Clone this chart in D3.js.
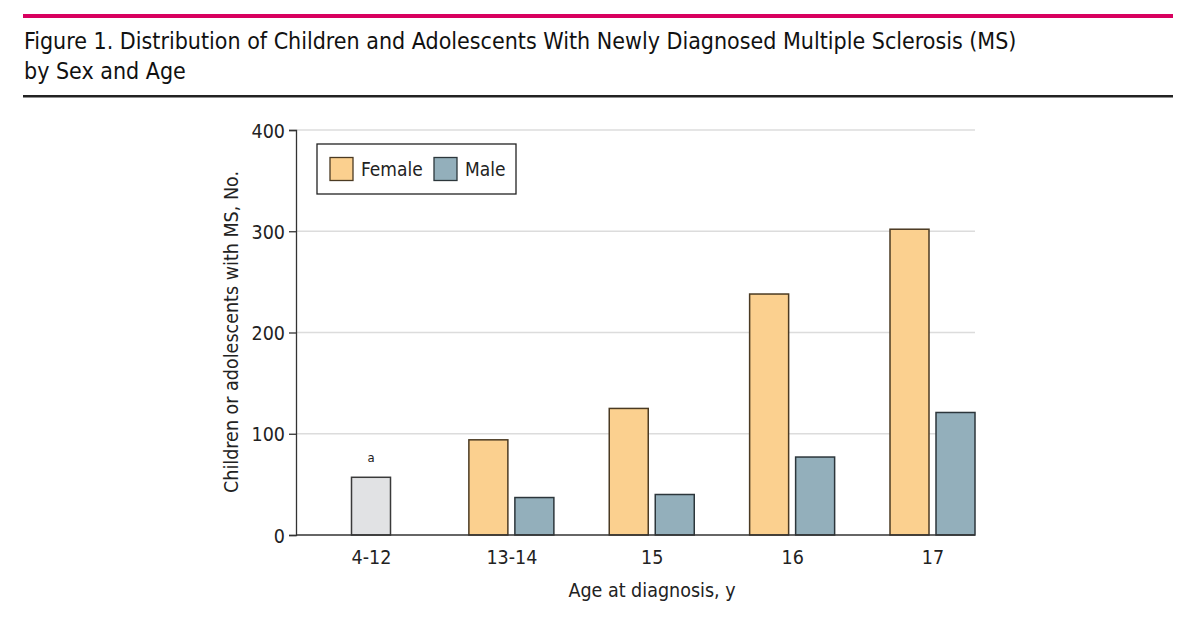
<!DOCTYPE html>
<html>
<head>
<meta charset="utf-8">
<script src="https://cdn.jsdelivr.net/npm/d3@7"></script>
<style>
  body { margin: 0; background: #fff; }
  svg { display: block; font-family: "Liberation Sans Narrow", "DejaVu Sans Condensed", "Noto Sans", sans-serif; }
</style>
</head>
<body>
<div id="chart"></div>
<script>
// data
var ageGroups = ["4-12", "13-14", "15", "16", "17"];
var femaleCounts = [null, 94, 125, 238, 302];
var maleCounts = [null, 37, 40, 77, 121];
var combinedCounts = [57, null, null, null, null]; // sex not split for 4-12 (footnote a)
var yTicks = [0, 100, 200, 300, 400];
var seriesNames = ["Female", "Male"];

var width = 1200, height = 639;
var plotLeft = 296, plotRight = 975, plotTop = 130, plotBottom = 535;

var colors = { Female: "#fbd08f", Male: "#93afbb", combined: "#e1e2e4" };
var strokes = { Female: "#4b3a22", Male: "#2c363b", combined: "#3a3a3a" };

var svg = d3.select("#chart").append("svg")
  .attr("width", width)
  .attr("height", height);

// header rules and title
svg.append("rect").attr("x", 23).attr("y", 14).attr("width", 1150).attr("height", 4).attr("fill", "#d8005f");
svg.append("rect").attr("x", 23).attr("y", 95).attr("width", 1150).attr("height", 2.5).attr("fill", "#222");

var title = svg.append("text")
  .attr("font-size", 23)
  .attr("fill", "#111");
title.append("tspan").attr("x", 24).attr("y", 49)
  .text("Figure 1. Distribution of Children and Adolescents With Newly Diagnosed Multiple Sclerosis (MS)");
title.append("tspan").attr("x", 24).attr("y", 79)
  .text("by Sex and Age");

var x = d3.scalePoint()
  .domain(ageGroups)
  .range([plotLeft + 75, plotRight - 42.5]);

var y = d3.scaleLinear()
  .domain([0, 400])
  .range([plotBottom, plotTop]);

var barW = 39, gap = 3.5;

// gridlines
svg.append("g")
  .selectAll("line")
  .data(yTicks.slice(1))
  .enter().append("line")
  .attr("x1", plotLeft)
  .attr("x2", plotRight)
  .attr("y1", d => y(d))
  .attr("y2", d => y(d))
  .attr("stroke", "#dcdcdc")
  .attr("stroke-width", 1.5);

// y axis
var yAxis = svg.append("g")
  .attr("transform", "translate(" + plotLeft + ",0)")
  .call(d3.axisLeft(y).tickValues(yTicks).tickSize(7).tickPadding(4))
  .attr("font-family", null)
  .attr("font-size", 19.5);
yAxis.select(".domain").attr("stroke", "#333").attr("stroke-width", 1.3);
yAxis.selectAll(".tick line").attr("stroke", "#333").attr("stroke-width", 1.3);
yAxis.selectAll(".tick text").attr("fill", "#222").attr("dy", "0.36em");

svg.append("text")
  .attr("transform", "translate(238,332) rotate(-90)")
  .attr("text-anchor", "middle")
  .attr("font-size", 19.5)
  .attr("fill", "#222")
  .text("Children or adolescents with MS, No.");

// bars
var bars = svg.append("g");

ageGroups.forEach(function(age, i) {
  if (combinedCounts[i] != null) {
    bars.append("rect")
      .attr("x", x(age) - barW / 2)
      .attr("y", y(combinedCounts[i]))
      .attr("width", barW)
      .attr("height", y(0) - y(combinedCounts[i]))
      .attr("fill", colors.combined)
      .attr("stroke", strokes.combined)
      .attr("stroke-width", 1.5);
    svg.append("text")
      .attr("x", x(age))
      .attr("y", y(combinedCounts[i]) - 15)
      .attr("text-anchor", "middle")
      .attr("font-size", 13)
      .attr("fill", "#222")
      .text("a");
  }
  if (femaleCounts[i] != null) {
    bars.append("rect")
      .attr("x", x(age) - gap - barW)
      .attr("y", y(femaleCounts[i]))
      .attr("width", barW)
      .attr("height", y(0) - y(femaleCounts[i]))
      .attr("fill", colors.Female)
      .attr("stroke", strokes.Female)
      .attr("stroke-width", 1.5);
  }
  if (maleCounts[i] != null) {
    bars.append("rect")
      .attr("x", x(age) + gap)
      .attr("y", y(maleCounts[i]))
      .attr("width", barW)
      .attr("height", y(0) - y(maleCounts[i]))
      .attr("fill", colors.Male)
      .attr("stroke", strokes.Male)
      .attr("stroke-width", 1.5);
  }
});

// x axis
var xAxis = svg.append("g")
  .attr("transform", "translate(0," + plotBottom + ")")
  .call(d3.axisBottom(x).tickSize(0).tickPadding(15))
  .attr("font-family", null)
  .attr("font-size", 19.5);
xAxis.select(".domain").attr("d", "M" + plotLeft + ",0H" + plotRight).attr("stroke", "#333").attr("stroke-width", 1.5);
xAxis.selectAll(".tick text").attr("fill", "#222");

svg.append("text")
  .attr("x", 652)
  .attr("y", 597)
  .attr("text-anchor", "middle")
  .attr("font-size", 19.5)
  .attr("fill", "#222")
  .text("Age at diagnosis, y");

// legend
var legend = svg.append("g").attr("transform", "translate(317,144)");
legend.append("rect")
  .attr("width", 199)
  .attr("height", 50)
  .attr("fill", "#fff")
  .attr("stroke", "#222")
  .attr("stroke-width", 1.3);

var legendX = [13, 117];
seriesNames.forEach(function(name, i) {
  legend.append("rect")
    .attr("x", legendX[i])
    .attr("y", 13.5)
    .attr("width", 23)
    .attr("height", 23)
    .attr("fill", colors[name])
    .attr("stroke", strokes[name])
    .attr("stroke-width", 1.3);
  legend.append("text")
    .attr("x", legendX[i] + 31)
    .attr("y", 31.5)
    .attr("font-size", 19)
    .attr("fill", "#222")
    .text(name);
});
</script>
</body>
</html>
